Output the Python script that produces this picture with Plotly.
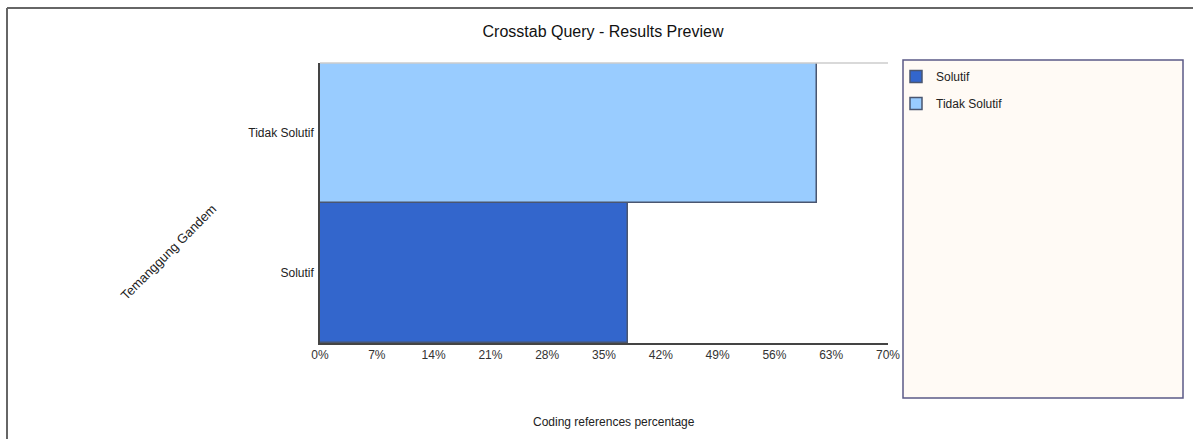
import plotly.graph_objects as go

categories = ["Solutif", "Tidak Solutif"]
values = [38.0, 61.2]
colors = ["#3366CC", "#99CCFF"]
tick_vals = [0, 7, 14, 21, 28, 35, 42, 49, 56, 63, 70]
tick_text = [f"{v}%" for v in tick_vals]

W, H = 1193, 439
L, R, T, B = 320, 888, 63, 343


def px(x):
    return (x - L) / (R - L)


def py(y):
    return (B - y) / (B - T)


fig = go.Figure()
for cat, val, col in zip(categories, values, colors):
    fig.add_trace(go.Bar(
        y=[cat], x=[val], orientation="h", name=cat,
        marker=dict(color=col, line=dict(color="#4a5670", width=1.5)),
        width=1, legendgroup=cat,
    ))

fig.update_layout(
    width=W, height=H,
    margin=dict(l=L, r=W - R, t=T, b=H - B),
    paper_bgcolor="white", plot_bgcolor="white",
    barmode="overlay", bargap=0,
    font=dict(family="Liberation Sans, Arial, sans-serif", size=12, color="#222"),
    title=dict(text="Crosstab Query - Results Preview", x=603 / W, xanchor="center",
               y=1 - 31 / H, yanchor="middle", font=dict(size=16, color="#111")),
    xaxis=dict(range=[0, 70], tickvals=tick_vals, ticktext=tick_text, showgrid=False,
               zeroline=False, showline=True, linecolor="#444", linewidth=1.5,
               ticks="", tickfont=dict(size=12, color="#333"), fixedrange=True),
    yaxis=dict(categoryorder="array", categoryarray=categories, showgrid=False,
               zeroline=False, showline=True, linecolor="#444", linewidth=1.5,
               ticks="", tickfont=dict(size=12, color="#222"), ticklabelstandoff=2),
    legend=dict(x=px(896), y=py(62), xanchor="left", yanchor="top",
                bgcolor="rgba(0,0,0,0)", borderwidth=0, tracegroupgap=8,
                font=dict(size=12, color="#222"), itemwidth=30),
    showlegend=True,
)

# legend frame
fig.add_shape(type="rect", xref="paper", yref="paper",
              x0=px(903), x1=px(1183), y0=py(60), y1=py(398),
              line=dict(color="#5b5a86", width=1.5), fillcolor="#FFFAF5", layer="below")
# top light line of plot
fig.add_shape(type="line", xref="paper", yref="paper", x0=0, x1=1, y0=1, y1=1,
              line=dict(color="#cccccc", width=1.5))
# outer frame
fig.add_shape(type="line", xref="paper", yref="paper", x0=px(7), x1=px(W), y0=py(8), y1=py(8),
              line=dict(color="#666", width=2))
fig.add_shape(type="line", xref="paper", yref="paper", x0=px(7), x1=px(7), y0=py(8), y1=py(H),
              line=dict(color="#666", width=2))

fig.add_annotation(text="Temanggung Gandem", xref="paper", yref="paper",
                   x=px(168), y=py(252), xanchor="center", yanchor="middle",
                   showarrow=False, textangle=-45,
                   font=dict(size=13, color="#222"))
fig.add_annotation(text="Coding references percentage", xref="paper", yref="paper",
                   x=px(614), y=py(422), xanchor="center", yanchor="middle",
                   showarrow=False, font=dict(size=12, color="#222"))

fig.write_html("out.html")
